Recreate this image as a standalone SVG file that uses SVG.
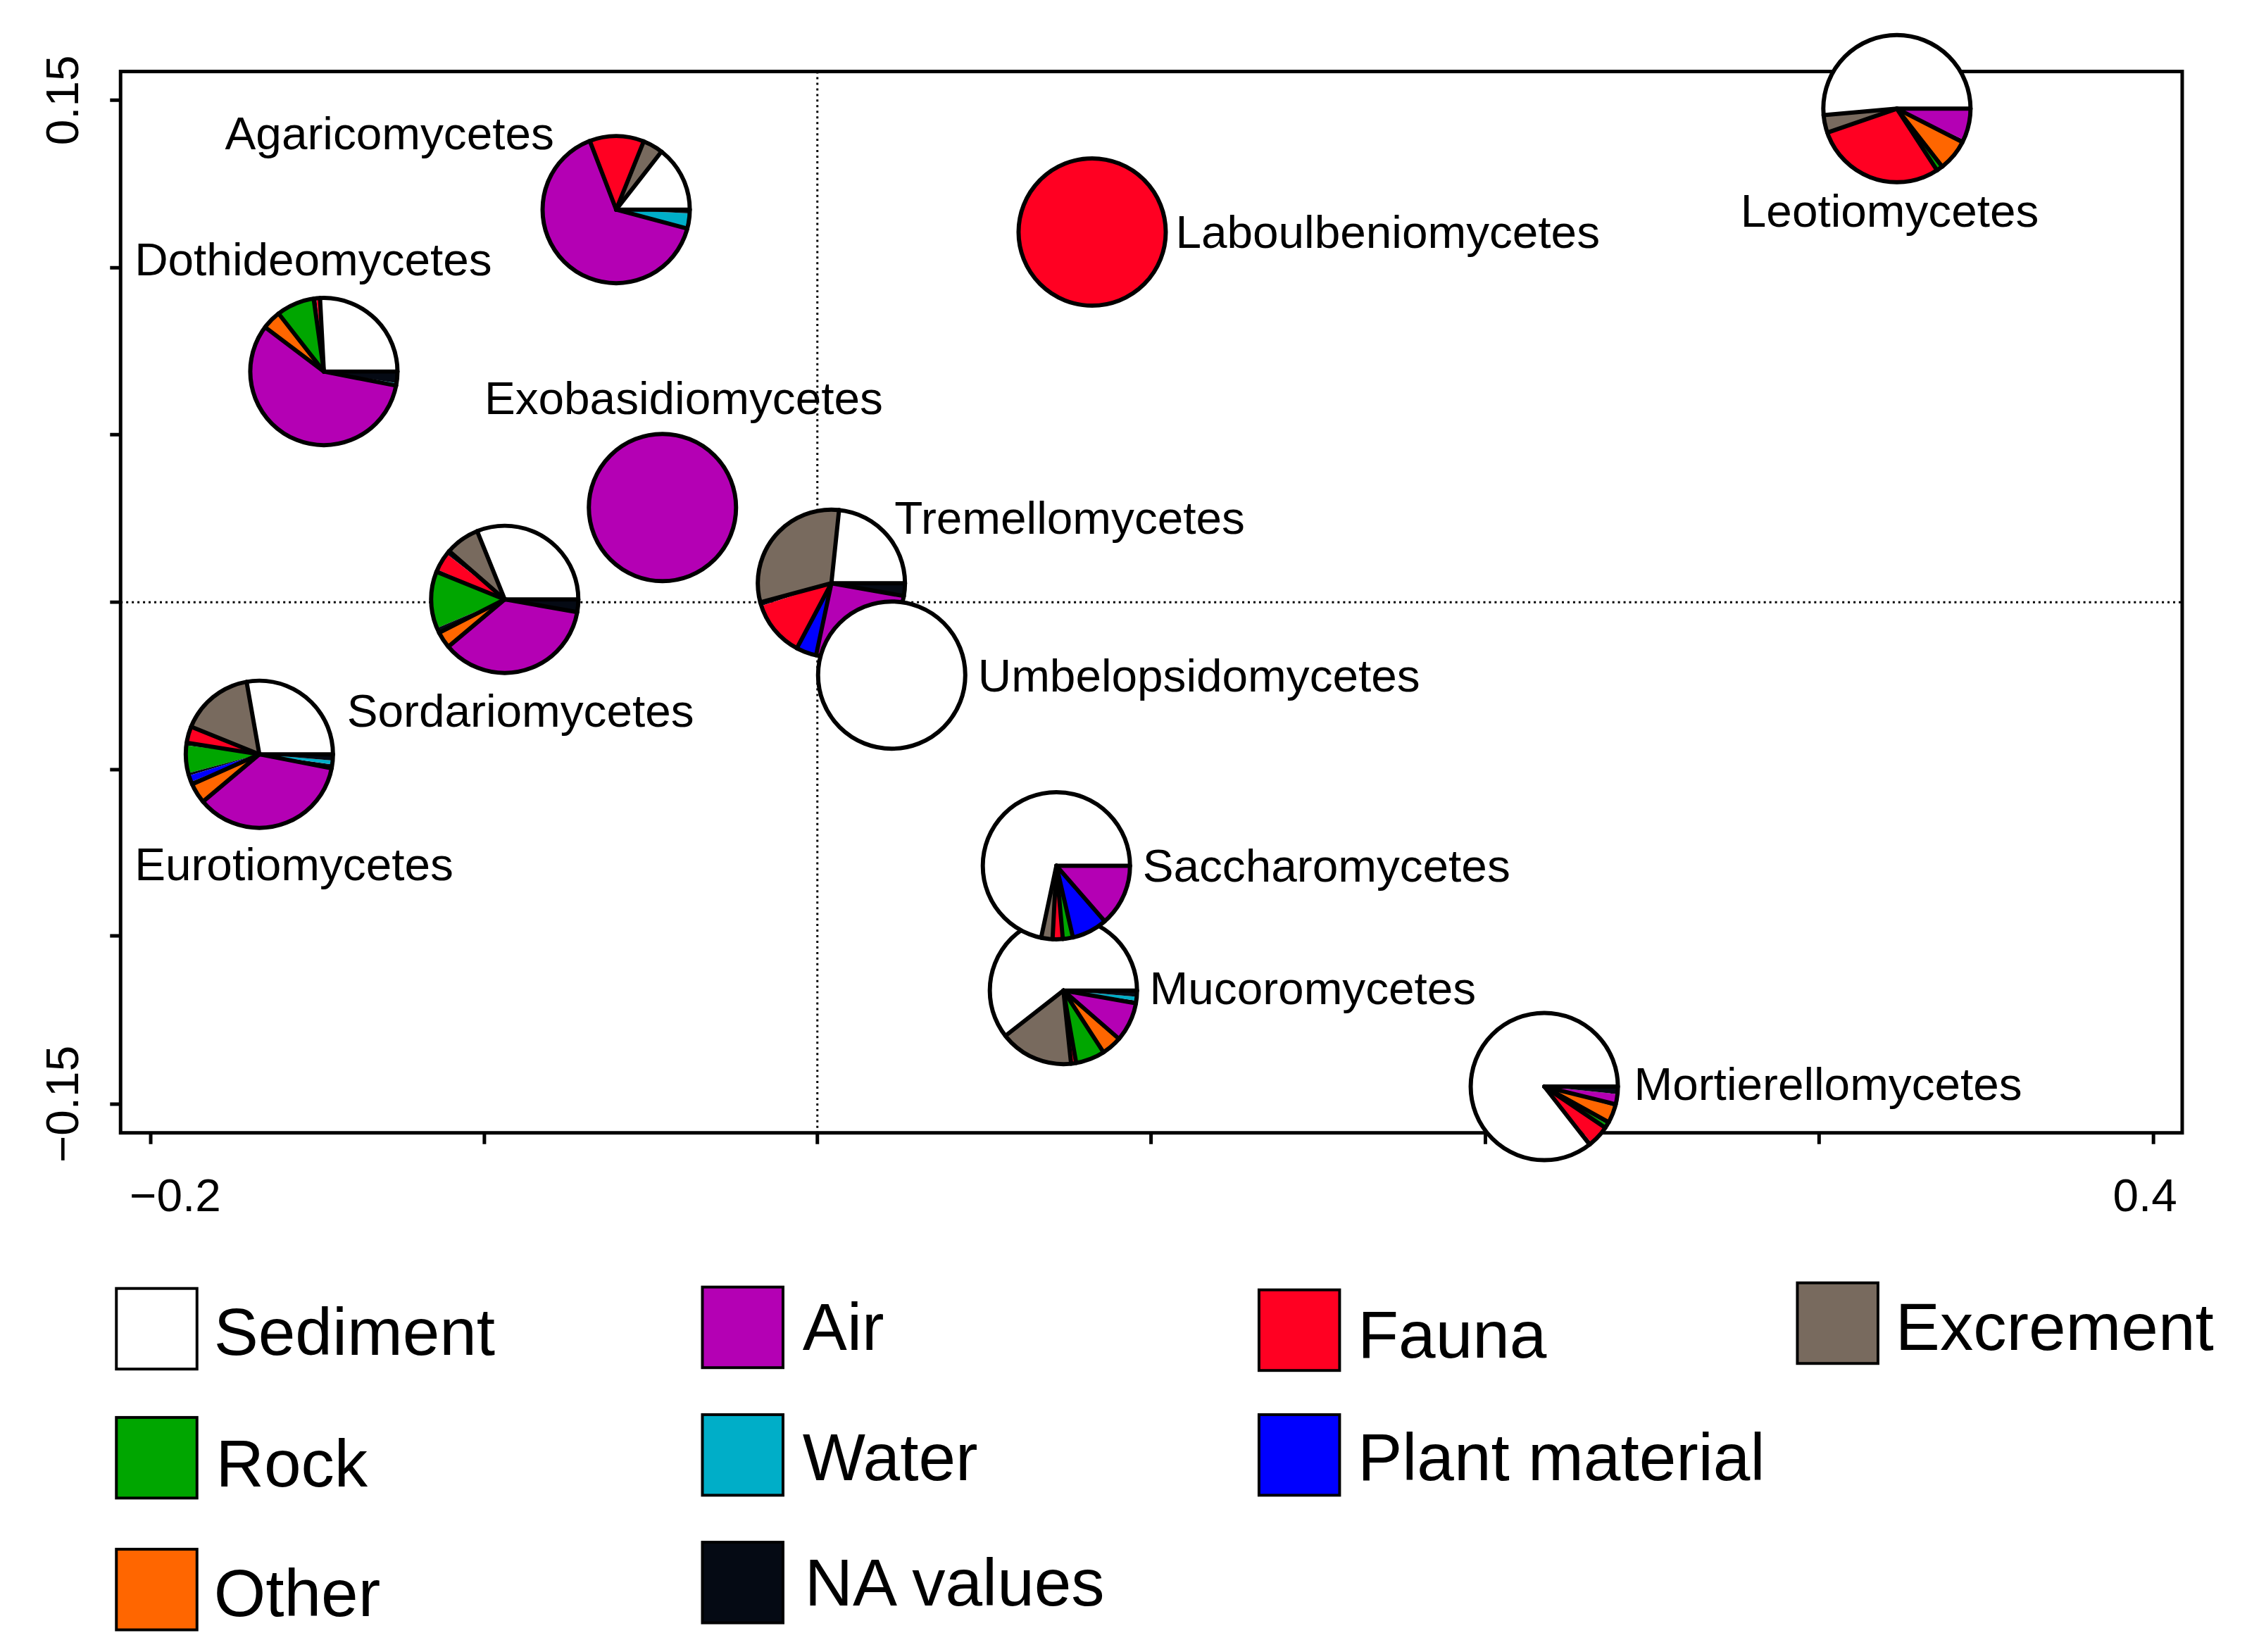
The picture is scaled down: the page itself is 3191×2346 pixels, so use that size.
<svg xmlns="http://www.w3.org/2000/svg" width="3191" height="2346" viewBox="0 0 3191 2346">
<style>
text{font-family:"Liberation Sans",Arial,sans-serif;fill:#000}
.lb{font-size:66px}
.lg{font-size:95px}
.s{fill:none;stroke-width:105}
.W{stroke:#fff}.G{stroke:#786A5E}.R{stroke:#FF0022}.P{stroke:#B400B4}.C{stroke:#00AEC8}.K{stroke:#050A14}.Gr{stroke:#00A600}.O{stroke:#FF6600}.B{stroke:#0000FF}
.ol{fill:none;stroke:#000;stroke-width:6}
.fc{stroke:#000;stroke-width:6}
.bl{stroke:#000;stroke-width:6;stroke-linecap:round}
.ax{stroke:#000;stroke-width:5;fill:none}
.box{stroke:#000;stroke-width:4}
</style>
<rect width="3191" height="2346" fill="#fff"/>
<g transform="scale(0.9955)">
<g id="axes">
<line x1="1166" y1="102" x2="1166" y2="1616" stroke="#000" stroke-width="3" stroke-dasharray="3 5"/>
<line x1="172" y1="859" x2="3113" y2="859" stroke="#000" stroke-width="3" stroke-dasharray="3 5"/>
<rect x="172" y="102" width="2941" height="1514" class="ax"/>
<path class="ax" d="M157 143H172M157 382H172M157 620H172M157 859H172M157 1098H172M157 1335H172M157 1575H172M215 1616V1632M691 1616V1632M1166 1616V1632M1642 1616V1632M2119 1616V1632M2595 1616V1632M3072 1616V1632"/>
<text class="lb" transform="translate(112,143) rotate(-90)" text-anchor="middle">0.15</text>
<text class="lb" transform="translate(112,1575) rotate(-90)" text-anchor="middle">−0.15</text>
<text class="lb" x="250" y="1728" text-anchor="middle">−0.2</text>
<text class="lb" x="3060" y="1728" text-anchor="middle">0.4</text>
</g>
<g id="connectors"></g>
<g id="Agaricomycetes" transform="translate(879,299)">
<g transform="scale(1,-1)">
<circle r="52.5" class="s W" pathLength="360" stroke-dasharray="52 400" stroke-dashoffset="0"/>
<circle r="52.5" class="s G" pathLength="360" stroke-dasharray="16 400" stroke-dashoffset="-52"/>
<circle r="52.5" class="s R" pathLength="360" stroke-dasharray="43 400" stroke-dashoffset="-68"/>
<circle r="52.5" class="s P" pathLength="360" stroke-dasharray="234 400" stroke-dashoffset="-111"/>
<circle r="52.5" class="s C" pathLength="360" stroke-dasharray="12 400" stroke-dashoffset="-345"/>
<circle r="52.5" class="s K" pathLength="360" stroke-dasharray="3 400" stroke-dashoffset="-357"/>
</g>
<g class="bl"><line x2="105" transform="rotate(0)"/><line x2="105" transform="rotate(-52)"/><line x2="105" transform="rotate(-68)"/><line x2="105" transform="rotate(-111)"/><line x2="105" transform="rotate(-345)"/></g>
<circle r="105" class="ol"/>
</g>
<text class="lb" x="321" y="213">Agaricomycetes</text>
<g id="Dothideomycetes" transform="translate(462,530)">
<g transform="scale(1,-1)">
<circle r="52.5" class="s W" pathLength="360" stroke-dasharray="93 400" stroke-dashoffset="0"/>
<circle r="52.5" class="s R" pathLength="360" stroke-dasharray="3 400" stroke-dashoffset="-93"/>
<circle r="52.5" class="s K" pathLength="360" stroke-dasharray="2 400" stroke-dashoffset="-96"/>
<circle r="52.5" class="s Gr" pathLength="360" stroke-dasharray="30 400" stroke-dashoffset="-98"/>
<circle r="52.5" class="s O" pathLength="360" stroke-dasharray="15 400" stroke-dashoffset="-128"/>
<circle r="52.5" class="s P" pathLength="360" stroke-dasharray="206 400" stroke-dashoffset="-143"/>
<circle r="52.5" class="s C" pathLength="360" stroke-dasharray="2 400" stroke-dashoffset="-349"/>
<circle r="52.5" class="s K" pathLength="360" stroke-dasharray="9 400" stroke-dashoffset="-351"/>
</g>
<g class="bl"><line x2="105"/><line x2="105" transform="rotate(-93)"/><line x2="105" transform="rotate(-98)"/><line x2="105" transform="rotate(-128)"/><line x2="105" transform="rotate(-143)"/><line x2="105" transform="rotate(-349)"/></g>
<circle r="105" class="ol"/>
</g>
<text class="lb" x="192" y="393">Dothideomycetes</text>
<g id="Exobasidiomycetes"><circle cx="945" cy="724" r="105" fill="#B400B4" class="fc"/></g>
<text class="lb" x="691" y="591">Exobasidiomycetes</text>
<g id="Laboulbeniomycetes"><circle cx="1558" cy="331" r="105" fill="#FF0022" class="fc"/></g>
<text class="lb" x="1677" y="354">Laboulbeniomycetes</text>
<g id="Sordariomycetes" transform="translate(720,855)">
<g transform="scale(1,-1)">
<circle r="52.5" class="s W" pathLength="360" stroke-dasharray="112 400" stroke-dashoffset="0"/>
<circle r="52.5" class="s G" pathLength="360" stroke-dasharray="27 400" stroke-dashoffset="-112"/>
<circle r="52.5" class="s K" pathLength="360" stroke-dasharray="3 400" stroke-dashoffset="-139"/>
<circle r="52.5" class="s R" pathLength="360" stroke-dasharray="14 400" stroke-dashoffset="-142"/>
<circle r="52.5" class="s K" pathLength="360" stroke-dasharray="2 400" stroke-dashoffset="-156"/>
<circle r="52.5" class="s Gr" pathLength="360" stroke-dasharray="45 400" stroke-dashoffset="-158"/>
<circle r="52.5" class="s K" pathLength="360" stroke-dasharray="4 400" stroke-dashoffset="-203"/>
<circle r="52.5" class="s O" pathLength="360" stroke-dasharray="13 400" stroke-dashoffset="-207"/>
<circle r="52.5" class="s P" pathLength="360" stroke-dasharray="130 400" stroke-dashoffset="-220"/>
<circle r="52.5" class="s K" pathLength="360" stroke-dasharray="10 400" stroke-dashoffset="-350"/>
</g>
<g class="bl"><line x2="105"/><line x2="105" transform="rotate(-112)"/><line x2="105" transform="rotate(-139)"/><line x2="105" transform="rotate(-158)"/><line x2="105" transform="rotate(-207)"/><line x2="105" transform="rotate(-220)"/><line x2="105" transform="rotate(-350)"/></g>
<circle r="105" class="ol"/>
</g>
<text class="lb" x="495" y="1037">Sordariomycetes</text>
<g id="Eurotiomycetes" transform="translate(370,1076)">
<g transform="scale(1,-1)">
<circle r="52.5" class="s W" pathLength="360" stroke-dasharray="100 400" stroke-dashoffset="0"/>
<circle r="52.5" class="s G" pathLength="360" stroke-dasharray="58 400" stroke-dashoffset="-100"/>
<circle r="52.5" class="s R" pathLength="360" stroke-dasharray="13 400" stroke-dashoffset="-158"/>
<circle r="52.5" class="s K" pathLength="360" stroke-dasharray="2 400" stroke-dashoffset="-171"/>
<circle r="52.5" class="s Gr" pathLength="360" stroke-dasharray="22 400" stroke-dashoffset="-173"/>
<circle r="52.5" class="s K" pathLength="360" stroke-dasharray="2 400" stroke-dashoffset="-195"/>
<circle r="52.5" class="s B" pathLength="360" stroke-dasharray="5 400" stroke-dashoffset="-197"/>
<circle r="52.5" class="s K" pathLength="360" stroke-dasharray="2 400" stroke-dashoffset="-202"/>
<circle r="52.5" class="s O" pathLength="360" stroke-dasharray="16 400" stroke-dashoffset="-204"/>
<circle r="52.5" class="s P" pathLength="360" stroke-dasharray="129 400" stroke-dashoffset="-220"/>
<circle r="52.5" class="s K" pathLength="360" stroke-dasharray="3 400" stroke-dashoffset="-349"/>
<circle r="52.5" class="s C" pathLength="360" stroke-dasharray="3 400" stroke-dashoffset="-352"/>
<circle r="52.5" class="s K" pathLength="360" stroke-dasharray="5 400" stroke-dashoffset="-355"/>
</g>
<g class="bl"><line x2="105"/><line x2="105" transform="rotate(-100)"/><line x2="105" transform="rotate(-158)"/><line x2="105" transform="rotate(-171)"/><line x2="105" transform="rotate(-204)"/><line x2="105" transform="rotate(-220)"/><line x2="105" transform="rotate(-349)"/></g>
<circle r="105" class="ol"/>
</g>
<text class="lb" x="192" y="1256">Eurotiomycetes</text>
<g id="Tremellomycetes" transform="translate(1186,832)">
<g transform="scale(1,-1)">
<circle r="52.5" class="s W" pathLength="360" stroke-dasharray="84 400" stroke-dashoffset="0"/>
<circle r="52.5" class="s G" pathLength="360" stroke-dasharray="111 400" stroke-dashoffset="-84"/>
<circle r="52.5" class="s K" pathLength="360" stroke-dasharray="3 400" stroke-dashoffset="-195"/>
<circle r="52.5" class="s R" pathLength="360" stroke-dasharray="44 400" stroke-dashoffset="-198"/>
<circle r="52.5" class="s B" pathLength="360" stroke-dasharray="16 400" stroke-dashoffset="-242"/>
<circle r="52.5" class="s P" pathLength="360" stroke-dasharray="92 400" stroke-dashoffset="-258"/>
<circle r="52.5" class="s K" pathLength="360" stroke-dasharray="10 400" stroke-dashoffset="-350"/>
</g>
<g class="bl"><line x2="105"/><line x2="105" transform="rotate(-84)"/><line x2="105" transform="rotate(-195)"/><line x2="105" transform="rotate(-242)"/><line x2="105" transform="rotate(-258)"/><line x2="105" transform="rotate(-350)"/></g>
<circle r="105" class="ol"/>
</g>
<text class="lb" x="1276" y="761">Tremellomycetes</text>
<g id="Umbelopsidomycetes"><circle cx="1272" cy="963" r="105" fill="#fff" class="fc"/></g>
<text class="lb" x="1395" y="986">Umbelopsidomycetes</text>
<g id="Mucoromycetes" transform="translate(1517,1413)">
<g transform="scale(1,-1)">
<circle r="52.5" class="s W" pathLength="360" stroke-dasharray="218 400" stroke-dashoffset="0"/>
<circle r="52.5" class="s G" pathLength="360" stroke-dasharray="58 400" stroke-dashoffset="-218"/>
<circle r="52.5" class="s K" pathLength="360" stroke-dasharray="1 400" stroke-dashoffset="-276"/>
<circle r="52.5" class="s R" pathLength="360" stroke-dasharray="2 400" stroke-dashoffset="-277"/>
<circle r="52.5" class="s K" pathLength="360" stroke-dasharray="1 400" stroke-dashoffset="-279"/>
<circle r="52.5" class="s Gr" pathLength="360" stroke-dasharray="23 400" stroke-dashoffset="-280"/>
<circle r="52.5" class="s O" pathLength="360" stroke-dasharray="16 400" stroke-dashoffset="-303"/>
<circle r="52.5" class="s P" pathLength="360" stroke-dasharray="31 400" stroke-dashoffset="-319"/>
<circle r="52.5" class="s K" pathLength="360" stroke-dasharray="2 400" stroke-dashoffset="-350"/>
<circle r="52.5" class="s C" pathLength="360" stroke-dasharray="3 400" stroke-dashoffset="-352"/>
<circle r="52.5" class="s K" pathLength="360" stroke-dasharray="5 400" stroke-dashoffset="-355"/>
</g>
<g class="bl"><line x2="105"/><line x2="105" transform="rotate(-218)"/><line x2="105" transform="rotate(-276)"/><line x2="105" transform="rotate(-280)"/><line x2="105" transform="rotate(-303)"/><line x2="105" transform="rotate(-319)"/><line x2="105" transform="rotate(-350)"/></g>
<circle r="105" class="ol"/>
</g>
<text class="lb" x="1640" y="1432">Mucoromycetes</text>
<g id="Saccharomycetes" transform="translate(1507,1235)">
<g transform="scale(1,-1)">
<circle r="52.5" class="s W" pathLength="360" stroke-dasharray="258 400" stroke-dashoffset="0"/>
<circle r="52.5" class="s G" pathLength="360" stroke-dasharray="9 400" stroke-dashoffset="-258"/>
<circle r="52.5" class="s R" pathLength="360" stroke-dasharray="7 400" stroke-dashoffset="-267"/>
<circle r="52.5" class="s K" pathLength="360" stroke-dasharray="2 400" stroke-dashoffset="-274"/>
<circle r="52.5" class="s Gr" pathLength="360" stroke-dasharray="6 400" stroke-dashoffset="-276"/>
<circle r="52.5" class="s K" pathLength="360" stroke-dasharray="2 400" stroke-dashoffset="-282"/>
<circle r="52.5" class="s B" pathLength="360" stroke-dasharray="27 400" stroke-dashoffset="-284"/>
<circle r="52.5" class="s P" pathLength="360" stroke-dasharray="49 400" stroke-dashoffset="-311"/>
</g>
<g class="bl"><line x2="105"/><line x2="105" transform="rotate(-258)"/><line x2="105" transform="rotate(-267)"/><line x2="105" transform="rotate(-275)"/><line x2="105" transform="rotate(-283)"/><line x2="105" transform="rotate(-311)"/></g>
<circle r="105" class="ol"/>
</g>
<text class="lb" x="1630" y="1258">Saccharomycetes</text>
<g id="Mortierellomycetes" transform="translate(2203,1550)">
<g transform="scale(1,-1)">
<circle r="52.5" class="s W" pathLength="360" stroke-dasharray="308 400" stroke-dashoffset="0"/>
<circle r="52.5" class="s K" pathLength="360" stroke-dasharray="2 400" stroke-dashoffset="-308"/>
<circle r="52.5" class="s R" pathLength="360" stroke-dasharray="16 400" stroke-dashoffset="-310"/>
<circle r="52.5" class="s K" pathLength="360" stroke-dasharray="1 400" stroke-dashoffset="-326"/>
<circle r="52.5" class="s Gr" pathLength="360" stroke-dasharray="2 400" stroke-dashoffset="-327"/>
<circle r="52.5" class="s K" pathLength="360" stroke-dasharray="2 400" stroke-dashoffset="-329"/>
<circle r="52.5" class="s O" pathLength="360" stroke-dasharray="13 400" stroke-dashoffset="-331"/>
<circle r="52.5" class="s K" pathLength="360" stroke-dasharray="2 400" stroke-dashoffset="-344"/>
<circle r="52.5" class="s P" pathLength="360" stroke-dasharray="8 400" stroke-dashoffset="-346"/>
<circle r="52.5" class="s K" pathLength="360" stroke-dasharray="6 400" stroke-dashoffset="-354"/>
</g>
<g class="bl"><line x2="105"/><line x2="105" transform="rotate(-308)"/><line x2="105" transform="rotate(-326)"/><line x2="105" transform="rotate(-331)"/><line x2="105" transform="rotate(-346)"/></g>
<circle r="105" class="ol"/>
</g>
<text class="lb" x="2331" y="1569">Mortierellomycetes</text>
<g id="Leotiomycetes" transform="translate(2706,155)">
<g transform="scale(1,-1)">
<circle r="52.5" class="s W" pathLength="360" stroke-dasharray="185 400" stroke-dashoffset="0"/>
<circle r="52.5" class="s G" pathLength="360" stroke-dasharray="13 400" stroke-dashoffset="-185"/>
<circle r="52.5" class="s K" pathLength="360" stroke-dasharray="2 400" stroke-dashoffset="-198"/>
<circle r="52.5" class="s R" pathLength="360" stroke-dasharray="102 400" stroke-dashoffset="-200"/>
<circle r="52.5" class="s K" pathLength="360" stroke-dasharray="2 400" stroke-dashoffset="-302"/>
<circle r="52.5" class="s Gr" pathLength="360" stroke-dasharray="3 400" stroke-dashoffset="-304"/>
<circle r="52.5" class="s K" pathLength="360" stroke-dasharray="2 400" stroke-dashoffset="-307"/>
<circle r="52.5" class="s O" pathLength="360" stroke-dasharray="23 400" stroke-dashoffset="-309"/>
<circle r="52.5" class="s K" pathLength="360" stroke-dasharray="3 400" stroke-dashoffset="-332"/>
<circle r="52.5" class="s P" pathLength="360" stroke-dasharray="25 400" stroke-dashoffset="-335"/>
</g>
<g class="bl"><line x2="105"/><line x2="105" transform="rotate(-185)"/><line x2="105" transform="rotate(-199)"/><line x2="105" transform="rotate(-303)"/><line x2="105" transform="rotate(-308)"/><line x2="105" transform="rotate(-333)"/></g>
<circle r="105" class="ol"/>
</g>
<text class="lb" x="2483" y="323">Leotiomycetes</text>
<g id="legend">
<rect class="box" x="166" y="1838" width="115" height="115" fill="#fff"/><text class="lg" x="305" y="1933">Sediment</text>
<rect class="box" x="1002" y="1836" width="115" height="115" fill="#B400B4"/><text class="lg" x="1145" y="1926">Air</text>
<rect class="box" x="1796" y="1840" width="115" height="115" fill="#FF0022"/><text class="lg" x="1937" y="1937">Fauna</text>
<rect class="box" x="2564" y="1830" width="115" height="115" fill="#786A5E"/><text class="lg" x="2704" y="1926">Excrement</text>
<rect class="box" x="166" y="2022" width="115" height="115" fill="#00A600"/><text class="lg" x="308" y="2121">Rock</text>
<rect class="box" x="1002" y="2018" width="115" height="115" fill="#00AEC8"/><text class="lg" x="1145" y="2111">Water</text>
<rect class="box" x="1796" y="2018" width="115" height="115" fill="#0000FF"/><text class="lg" x="1937" y="2111">Plant material</text>
<rect class="box" x="166" y="2210" width="115" height="115" fill="#FF6600"/><text class="lg" x="305" y="2305">Other</text>
<rect class="box" x="1002" y="2200" width="115" height="115" fill="#050A14"/><text class="lg" x="1148" y="2290">NA values</text>
</g>
</g>
</svg>
